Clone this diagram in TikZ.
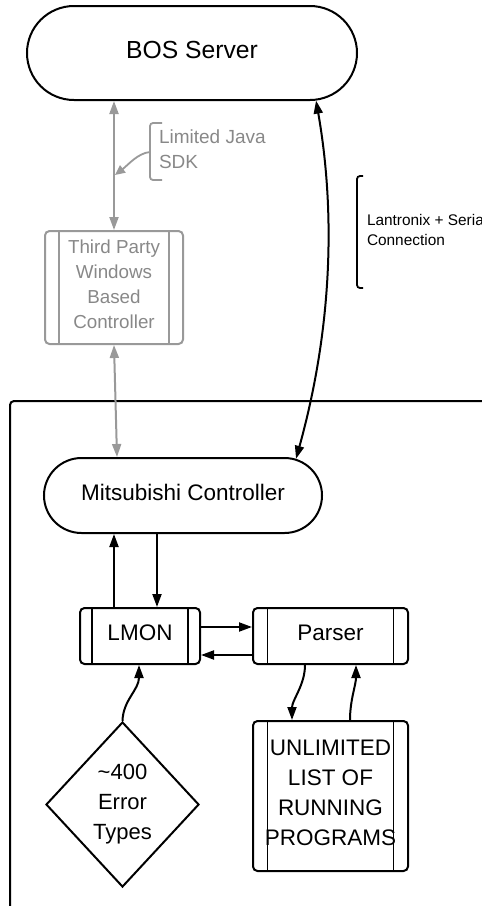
\documentclass[tikz,border=0pt]{standalone}
\usepackage{fontspec}
\setmainfont{Liberation Sans}
\usetikzlibrary{shapes.misc,shapes.geometric,arrows.meta,calc}
\definecolor{lgray}{HTML}{999999}
\definecolor{tgray}{HTML}{888888}
\begin{document}
\begin{tikzpicture}[x=1pt,y=-1pt,
  line width=2pt,
  tip/.style={-{Triangle[length=13pt,width=9pt]}},
  dtip/.style={{Triangle[length=13pt,width=9pt]}-{Triangle[length=13pt,width=9pt]}},
  stadium/.style={rounded rectangle, draw, line width=2pt, inner sep=0pt},
  procbox/.style 2 args={draw=#2, rounded corners=4.5pt, inner sep=0pt, align=center,
     path picture={\draw[#2, line width=1.8pt]
       ([xshift=#1]path picture bounding box.north west) -- ([xshift=#1]path picture bounding box.south west)
       ([xshift=-#1]path picture bounding box.north east) -- ([xshift=-#1]path picture bounding box.south east);}},
  bracket/.style={line width=1.8pt, rounded corners=3pt},
]
\useasboundingbox (0,0) rectangle (482,906);
\clip (0,0) rectangle (482,906);

% container
\draw[rounded corners=4pt] (482,401) -- (10,401) -- (10,906);

% nodes
\node[stadium, minimum width=330pt, minimum height=94pt, text depth=6pt, font=\fontsize{24.7}{30}\selectfont] (bos) at (192,53) {BOS Server};
\node[procbox={14pt}{lgray}, minimum width=138pt, minimum height=113pt, text depth=6pt, text=tgray, font=\fontsize{18.8}{25}\selectfont] (tp) at (114,287.5) {Third Party\\Windows\\Based\\Controller};
\node[stadium, minimum width=278pt, minimum height=75pt, text depth=7pt, font=\fontsize{22.5}{28}\selectfont] (mit) at (183,495.5) {Mitsubishi Controller};
\node[procbox={12pt}{black}, minimum width=120pt, minimum height=56pt, text depth=7pt, font=\fontsize{22.5}{28}\selectfont] (lmon) at (140,636) {LMON};
\node[procbox={14.5pt}{black}, minimum width=155pt, minimum height=56pt, text depth=7pt, font=\fontsize{22.5}{28}\selectfont] (parser) at (330.5,636) {Parser};
\node[procbox={14.5pt}{black}, minimum width=155pt, minimum height=150pt, text depth=7pt, font=\fontsize{22.5}{30}\selectfont] (unl) at (330.5,796) {UNLIMITED\\LIST OF\\RUNNING\\PROGRAMS};
\node[diamond, draw, minimum width=153pt, minimum height=165pt, inner sep=0pt, align=center, font=\fontsize{22}{30}\selectfont] (dia) at (122.5,804.5) {\textasciitilde400\\Error\\Types};

% labels
\node[anchor=west, align=left, text=tgray, font=\fontsize{19}{25}\selectfont, inner sep=0pt] (sdk) at (158,149.5) {Limited Java\\SDK};
\draw[lgray, bracket] ($(sdk.west)+(4,-26.5)$) -- ($(sdk.west)+(-8,-26.5)$) -- ($(sdk.west)+(-8,30.5)$) -- ($(sdk.west)+(4,30.5)$);
\coordinate (jv) at (115,175);
\draw[lgray, line width=1.8pt, -{Triangle[length=10pt,width=9pt]}] ($(sdk.west)+(-8,2.5)$) .. controls (138,153) and (128,165) .. (jv);

\node[anchor=west, align=left, font=\fontsize{15.4}{20}\selectfont, inner sep=0pt] (lan) at (366,230) {Lantronix + Serial\\Connection};
\draw[bracket] ($(lan.west)+(-3,-54)$) -- ($(lan.west)+(-9,-54)$) -- ($(lan.west)+(-9,58)$) -- ($(lan.west)+(-3,58)$);

% connectors
\draw[lgray, dtip] (tp.north) -- (tp.north |- bos.south);
\draw[lgray, dtip] (tp.south) -- (mit.north -| 117,0);
\draw[dtip] (bos.-21) .. controls (330,180) and (340,300) .. (mit.18.5);
\draw[tip] (lmon.north -| 114,0) -- (mit.south -| 114,0);
\draw[tip] (mit.south -| 157,0) -- (lmon.north -| 157,0);
\draw[tip] (lmon.east |- 0,627) -- (parser.west |- 0,627);
\draw[tip] (parser.west |- 0,655) -- (lmon.east |- 0,655);
\draw[tip] (dia.north) .. controls (123,700) and (139,690) .. (lmon.south -| 139,0);
\draw[tip] (parser.south -| 305,0) .. controls (305,685) and (292,700) .. (unl.north -| 292,0);
\draw[tip] (unl.north -| 350,0) .. controls (350,700) and (356,685) .. (parser.south -| 356,0);
\end{tikzpicture}
\end{document}
